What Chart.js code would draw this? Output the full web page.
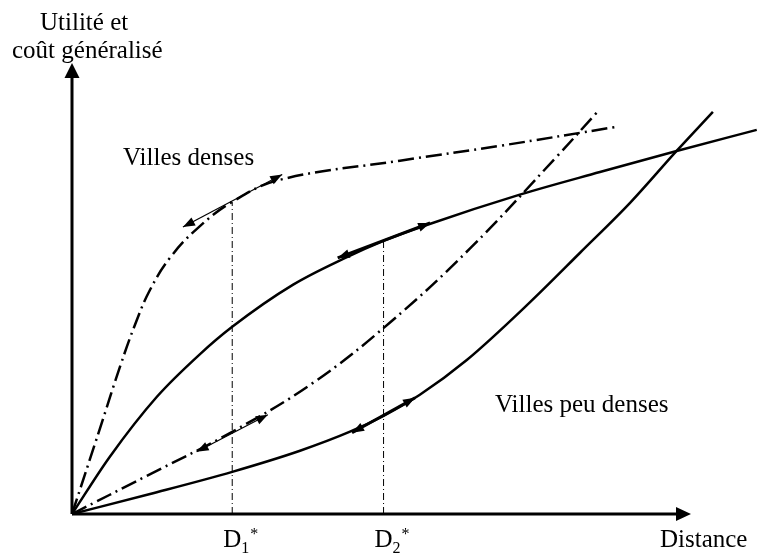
<!DOCTYPE html>
<html lang="fr">
<head>
  <meta charset="UTF-8">
  <title>Utilité et coût généralisé</title>
  <script src="https://cdn.jsdelivr.net/npm/chart.js"></script>
  <style>
    html, body { margin: 0; padding: 0; background: #fff; }
    #wrap { width: 757px; height: 556px; }
  </style>
</head>
<body>
<div id="wrap"><canvas id="chart"></canvas></div>

<script>
  // Valeurs (unités arbitraires : distance / utilité et coût)
  const xMax = 90.4;
  const yMax = 87.7;

  // Villes denses (tirets-points)
  const utilDenseX = [0, 4.1, 7.0, 9.2, 11.4, 14.3, 18.2, 23.4, 30.4, 47.9, 62.5, 79.6];
  const utilDenseY = [0, 16.7, 28.6, 36.8, 43.6, 49.8, 55.4, 60.7, 65.0, 68.7, 71.6, 75.3];
  const coutDenseX = [0, 10.9, 23.4, 35.2, 46.4, 58.1, 70.8, 76.6];
  const coutDenseY = [0, 7.4, 16.0, 25.5, 37.2, 51.6, 69.5, 78.0];

  // Villes peu denses (traits pleins)
  const utilPeuDenseX = [0, 5.5, 12.4, 18.7, 23.4, 32.3, 39.6, 45.5, 51.8, 65.4, 77.1, 88.3, 100];
  const utilPeuDenseY = [0, 11.1, 22.8, 31.1, 36.4, 44.6, 49.6, 53.1, 56.2, 62.1, 66.5, 70.6, 74.7];
  const coutPeuDenseX = [0, 11.4, 23.4, 33.3, 40.6, 45.5, 50.8, 57.7, 66.9, 74.2, 81.5, 88.3, 93.6];
  const coutPeuDenseY = [0, 3.9, 8.2, 12.3, 16.0, 19.1, 23.2, 30.0, 41.2, 50.8, 60.5, 70.6, 78.2];

  // tangentes aux distances optimales
  const tanUtilDenseX = [16.2, 30.7], tanUtilDenseY = [55.8, 66.0];
  const tanCoutDenseX = [18.2, 28.6], tanCoutDenseY = [12.1, 19.3];
  const tanUtilPeuDenseX = [38.8, 52.3], tanUtilPeuDenseY = [49.8, 56.6];
  const tanCoutPeuDenseX = [40.9, 50.1], tanCoutPeuDenseY = [15.8, 22.6];

  // distances optimales D1*, D2*
  const dStar = [23.4, 45.5];
  const dStarTop = [60.7, 53.1];
  const dStarIdx = ["1", "2"];

  const pts = (xs, ys) => xs.map((x, i) => ({ x: x, y: ys[i] }));

  const DASHDOT = [16, 5, 2, 5];

  function curve(xs, ys, dashed, mode) {
    return {
      data: pts(xs, ys),
      showLine: true,
      borderColor: "#000",
      borderWidth: 2.5,
      borderDash: dashed ? DASHDOT : [],
      tension: 0.4,
      cubicInterpolationMode: mode,
      pointRadius: 0,
      clip: false
    };
  }

  function tangent(xs, ys, width) {
    return {
      data: pts(xs, ys),
      showLine: true,
      borderColor: "#000",
      borderWidth: width,
      tension: 0,
      pointRadius: 0,
      clip: false,
      arrows: true
    };
  }

  const datasets = [
    curve(utilDenseX, utilDenseY, true, "default"),
    curve(coutDenseX, coutDenseY, true, "default"),
    curve(utilPeuDenseX, utilPeuDenseY, false, "monotone"),
    curve(coutPeuDenseX, coutPeuDenseY, false, "monotone"),
    tangent(tanUtilDenseX, tanUtilDenseY, 1.2),
    tangent(tanCoutDenseX, tanCoutDenseY, 1.2),
    tangent(tanUtilPeuDenseX, tanUtilPeuDenseY, 3),
    tangent(tanCoutPeuDenseX, tanCoutPeuDenseY, 3)
  ];

  dStar.forEach((d, i) => {
    datasets.push({
      data: [{ x: d, y: 0 }, { x: d, y: dStarTop[i] }],
      showLine: true,
      borderColor: "#000",
      borderWidth: 1,
      borderDash: [7, 3, 1, 3],
      tension: 0,
      pointRadius: 0,
      clip: false
    });
  });

  // pointe de flèche pleine
  function head(ctx, x, y, ang, len, half) {
    ctx.save();
    ctx.translate(x, y);
    ctx.rotate(ang);
    ctx.beginPath();
    ctx.moveTo(0, 0);
    ctx.lineTo(-len, -half);
    ctx.lineTo(-len, half);
    ctx.closePath();
    ctx.fill();
    ctx.restore();
  }

  const SERIF = '"Liberation Serif", "Times New Roman", serif';

  const decorPlugin = {
    id: "decor",
    afterDatasetsDraw(chart) {
      const ctx = chart.ctx;
      const { left, right, top, bottom } = chart.chartArea;
      const xs = chart.scales.x;

      ctx.save();
      ctx.fillStyle = "#000";
      ctx.strokeStyle = "#000";

      // axes
      ctx.lineWidth = 3;
      ctx.beginPath();
      ctx.moveTo(left, bottom);
      ctx.lineTo(right - 10, bottom);
      ctx.moveTo(left, bottom);
      ctx.lineTo(left, top + 10);
      ctx.stroke();
      head(ctx, right, bottom, 0, 15, 7);
      head(ctx, left, top, -Math.PI / 2, 15, 7.5);

      // flèches des tangentes
      chart.data.datasets.forEach((ds, i) => {
        if (!ds.arrows) return;
        const p = chart.getDatasetMeta(i).data;
        const a = p[0], b = p[p.length - 1];
        const ang = Math.atan2(b.y - a.y, b.x - a.x);
        head(ctx, b.x, b.y, ang, 12, 4.5);
        head(ctx, a.x, a.y, ang + Math.PI, 12, 4.5);
      });

      // textes
      ctx.textBaseline = "alphabetic";
      ctx.textAlign = "left";
      ctx.font = "25px " + SERIF;
      ctx.fillText("Utilité et", 40, 30);
      ctx.fillText("coût généralisé", 12, 58);
      ctx.fillText("Villes denses", 123, 165);
      ctx.fillText("Villes peu denses", 495, 412);
      ctx.fillText("Distance", 660, 547);

      dStar.forEach((d, i) => {
        const px = xs.getPixelForValue(d) - 9;
        ctx.font = "25px " + SERIF;
        ctx.fillText("D", px, 547);
        const w = ctx.measureText("D").width;
        ctx.font = "16px " + SERIF;
        ctx.fillText(dStarIdx[i], px + w, 553);
        const w2 = ctx.measureText(dStarIdx[i]).width;
        ctx.fillText("*", px + w + w2 + 1, 539);
      });

      ctx.restore();
    }
  };

  new Chart(document.getElementById("chart"), {
    type: "scatter",
    data: { datasets: datasets },
    options: {
      responsive: true,
      maintainAspectRatio: false,
      animation: false,
      layout: { padding: { left: 72, right: 66, top: 63, bottom: 42 } },
      scales: {
        x: { type: "linear", min: 0, max: xMax, display: false },
        y: { type: "linear", min: 0, max: yMax, display: false }
      },
      elements: {
        point: { radius: 0 },
        line: { capBezierPoints: false }
      },
      plugins: {
        legend: { display: false },
        tooltip: { enabled: false }
      }
    },
    plugins: [decorPlugin]
  });
</script>
</body>
</html>
